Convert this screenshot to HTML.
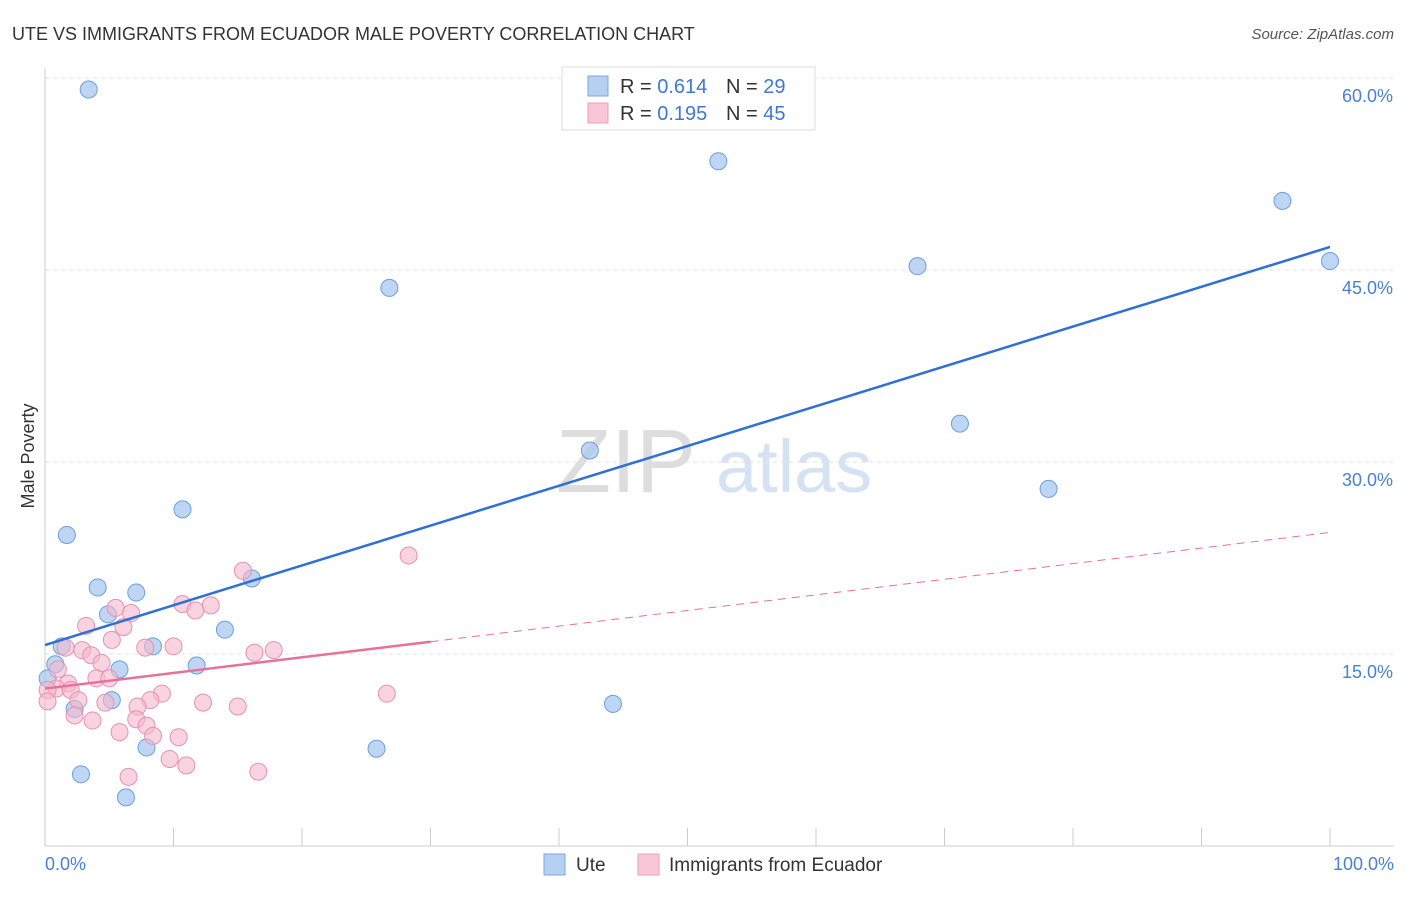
<!DOCTYPE html>
<html><head><meta charset="utf-8"><style>
body{margin:0;background:#fff;font-family:"Liberation Sans",sans-serif;}
svg text{font-family:"Liberation Sans",sans-serif;}
</style></head><body>
<svg id="chart" width="1406" height="892" xmlns="http://www.w3.org/2000/svg">
<text x="12" y="40" font-size="18" fill="#333">UTE VS IMMIGRANTS FROM ECUADOR MALE POVERTY CORRELATION CHART</text>
<text x="1394" y="39" font-size="15" fill="#555" text-anchor="end" font-style="italic">Source: ZipAtlas.com</text>
<text transform="translate(34,456) rotate(-90)" font-size="18" fill="#333" text-anchor="middle">Male Poverty</text>
<text x="556" y="492" font-size="90" fill="#ddd" font-family="Liberation Serif">ZIP</text>
<text x="716" y="492" font-size="74" fill="#d4e2f4">atlas</text>
<g id="grid"></g><g id="marks"></g>
<g>
<rect x="562" y="67" width="253" height="63" fill="#fff" stroke="#ddd"/>
<rect x="588" y="76" width="20" height="20" fill="#b6d0f2" stroke="#7aa6e0"/>
<rect x="588" y="103" width="20" height="20" fill="#f8c6d6" stroke="#eaa0ba"/>
<text x="620" y="93" font-size="20" fill="#333">R = <tspan fill="#3d78d8">0.614</tspan></text>
<text x="726" y="93" font-size="20" fill="#333">N = <tspan fill="#3d78d8">29</tspan></text>
<text x="620" y="120" font-size="20" fill="#333">R = <tspan fill="#3d78d8">0.195</tspan></text>
<text x="726" y="120" font-size="20" fill="#333">N = <tspan fill="#3d78d8">45</tspan></text>
</g>
<g>
<rect x="544" y="854" width="21" height="21" fill="#b6d0f2" stroke="#7aa6e0"/>
<text x="576" y="871" font-size="19" fill="#333">Ute</text>
<rect x="638" y="854" width="21" height="21" fill="#f8c6d6" stroke="#eaa0ba"/>
<text x="669" y="871" font-size="19" fill="#333">Immigrants from Ecuador</text>
</g>
</svg>
<script>
const yTicks=[15,30,45,60];
const yTickLabels=["15.0%","30.0%","45.0%","60.0%"];
const uteX=[3.4,52.4,96.3,100,67.9,26.8,71.2,42.4,78.1,1.7,10.7,4.1,7.1,16.1,4.9,14.0,8.4,1.3,0.8,5.8,11.8,0.2,5.2,2.3,44.2,7.9,25.8,2.8,6.3];
const uteY=[59.1,53.5,50.4,45.7,45.3,43.6,33.0,30.9,27.9,24.3,26.3,20.2,19.8,20.9,18.1,16.9,15.6,15.6,14.2,13.8,14.1,13.1,11.4,10.7,11.1,7.7,7.6,5.6,3.8];
const ecuX=[28.3,15.4,10.7,12.9,5.5,6.7,11.7,3.2,6.1,5.2,1.6,7.8,10.0,2.9,3.6,16.3,17.8,4.4,1.0,4.0,5.0,1.8,0.9,0.2,2.0,9.1,26.6,2.6,8.2,0.2,4.7,12.3,15.0,7.2,2.3,3.7,7.1,7.9,5.8,8.4,10.4,9.7,11.0,16.6,6.5];
const ecuY=[22.7,21.5,18.9,18.8,18.6,18.2,18.4,17.2,17.1,16.1,15.5,15.5,15.6,15.3,14.9,15.1,15.3,14.3,13.8,13.1,13.1,12.7,12.3,12.2,12.2,11.9,11.9,11.4,11.4,11.3,11.2,11.2,10.9,10.9,10.2,9.8,9.9,9.4,8.9,8.6,8.5,6.8,6.3,5.8,5.4];
const uteTrend=[15.7,46.8];
const ecuTrend=[12.3,24.5];
const ecuSolidEnd=30;
const NS="http://www.w3.org/2000/svg";
const sx=v=>45+v*12.85, sy=v=>846-v*12.8;
function mk(t,a,p){const e=document.createElementNS(NS,t);for(const k in a)e.setAttribute(k,a[k]);p.appendChild(e);return e;}
const g=document.getElementById('grid'), m=document.getElementById('marks');
yTicks.forEach((t,i)=>{
 const l=mk('line',{x1:45,x2:1394,y1:sy(t),y2:sy(t),stroke:'#e2e2e2','stroke-dasharray':'4,4'},g);
 
 
 const tx=mk('text',{x:1393,y:sy(t)+24,'font-size':18,fill:'#4a7fd8','text-anchor':'end'},g);tx.textContent=yTickLabels[i];
 
 
});
mk('line',{x1:45,x2:45,y1:68,y2:846,stroke:'#ccc'},g);
mk('line',{x1:45,x2:1394,y1:846,y2:846,stroke:'#ccc'},g);
for(let i=1;i<=10;i++){mk('line',{x1:45+i*128.5,x2:45+i*128.5,y1:828,y2:846,stroke:'#ccc'},g);}
let t0=mk('text',{x:45,y:870,'font-size':18,fill:'#4a7fd8'},g);t0.textContent='0.0%';


let t1=mk('text',{x:1394,y:870,'font-size':18,fill:'#4a7fd8','text-anchor':'end'},g);t1.textContent='100.0%';


uteX.forEach((x,i)=>{const c=mk('circle',{cx:sx(x),cy:sy(uteY[i]),r:8.5,fill:'rgba(168,200,240,0.75)',stroke:'#6a9fe0','stroke-width':1},m);
 
 });
ecuX.forEach((x,i)=>{const c=mk('circle',{cx:sx(x),cy:sy(ecuY[i]),r:8.5,fill:'rgba(245,184,204,0.6)',stroke:'#e890b0','stroke-width':1},m);
 
 });
const ecuAt=x=>ecuTrend[0]+(ecuTrend[1]-ecuTrend[0])*x/100;
let d=mk('line',{x1:sx(ecuSolidEnd),y1:sy(ecuAt(ecuSolidEnd)),x2:sx(100),y2:sy(ecuTrend[1]),stroke:'#e8709a','stroke-width':1,'stroke-dasharray':'8,6'},m);


let s=mk('line',{x1:sx(0),y1:sy(ecuTrend[0]),x2:sx(ecuSolidEnd),y2:sy(ecuAt(ecuSolidEnd)),stroke:'#e8709a','stroke-width':2.5},m);


let b=mk('line',{x1:sx(0),y1:sy(uteTrend[0]),x2:sx(100),y2:sy(uteTrend[1]),stroke:'#2f6fd8','stroke-width':2.5},m);


</script>
</body></html>
